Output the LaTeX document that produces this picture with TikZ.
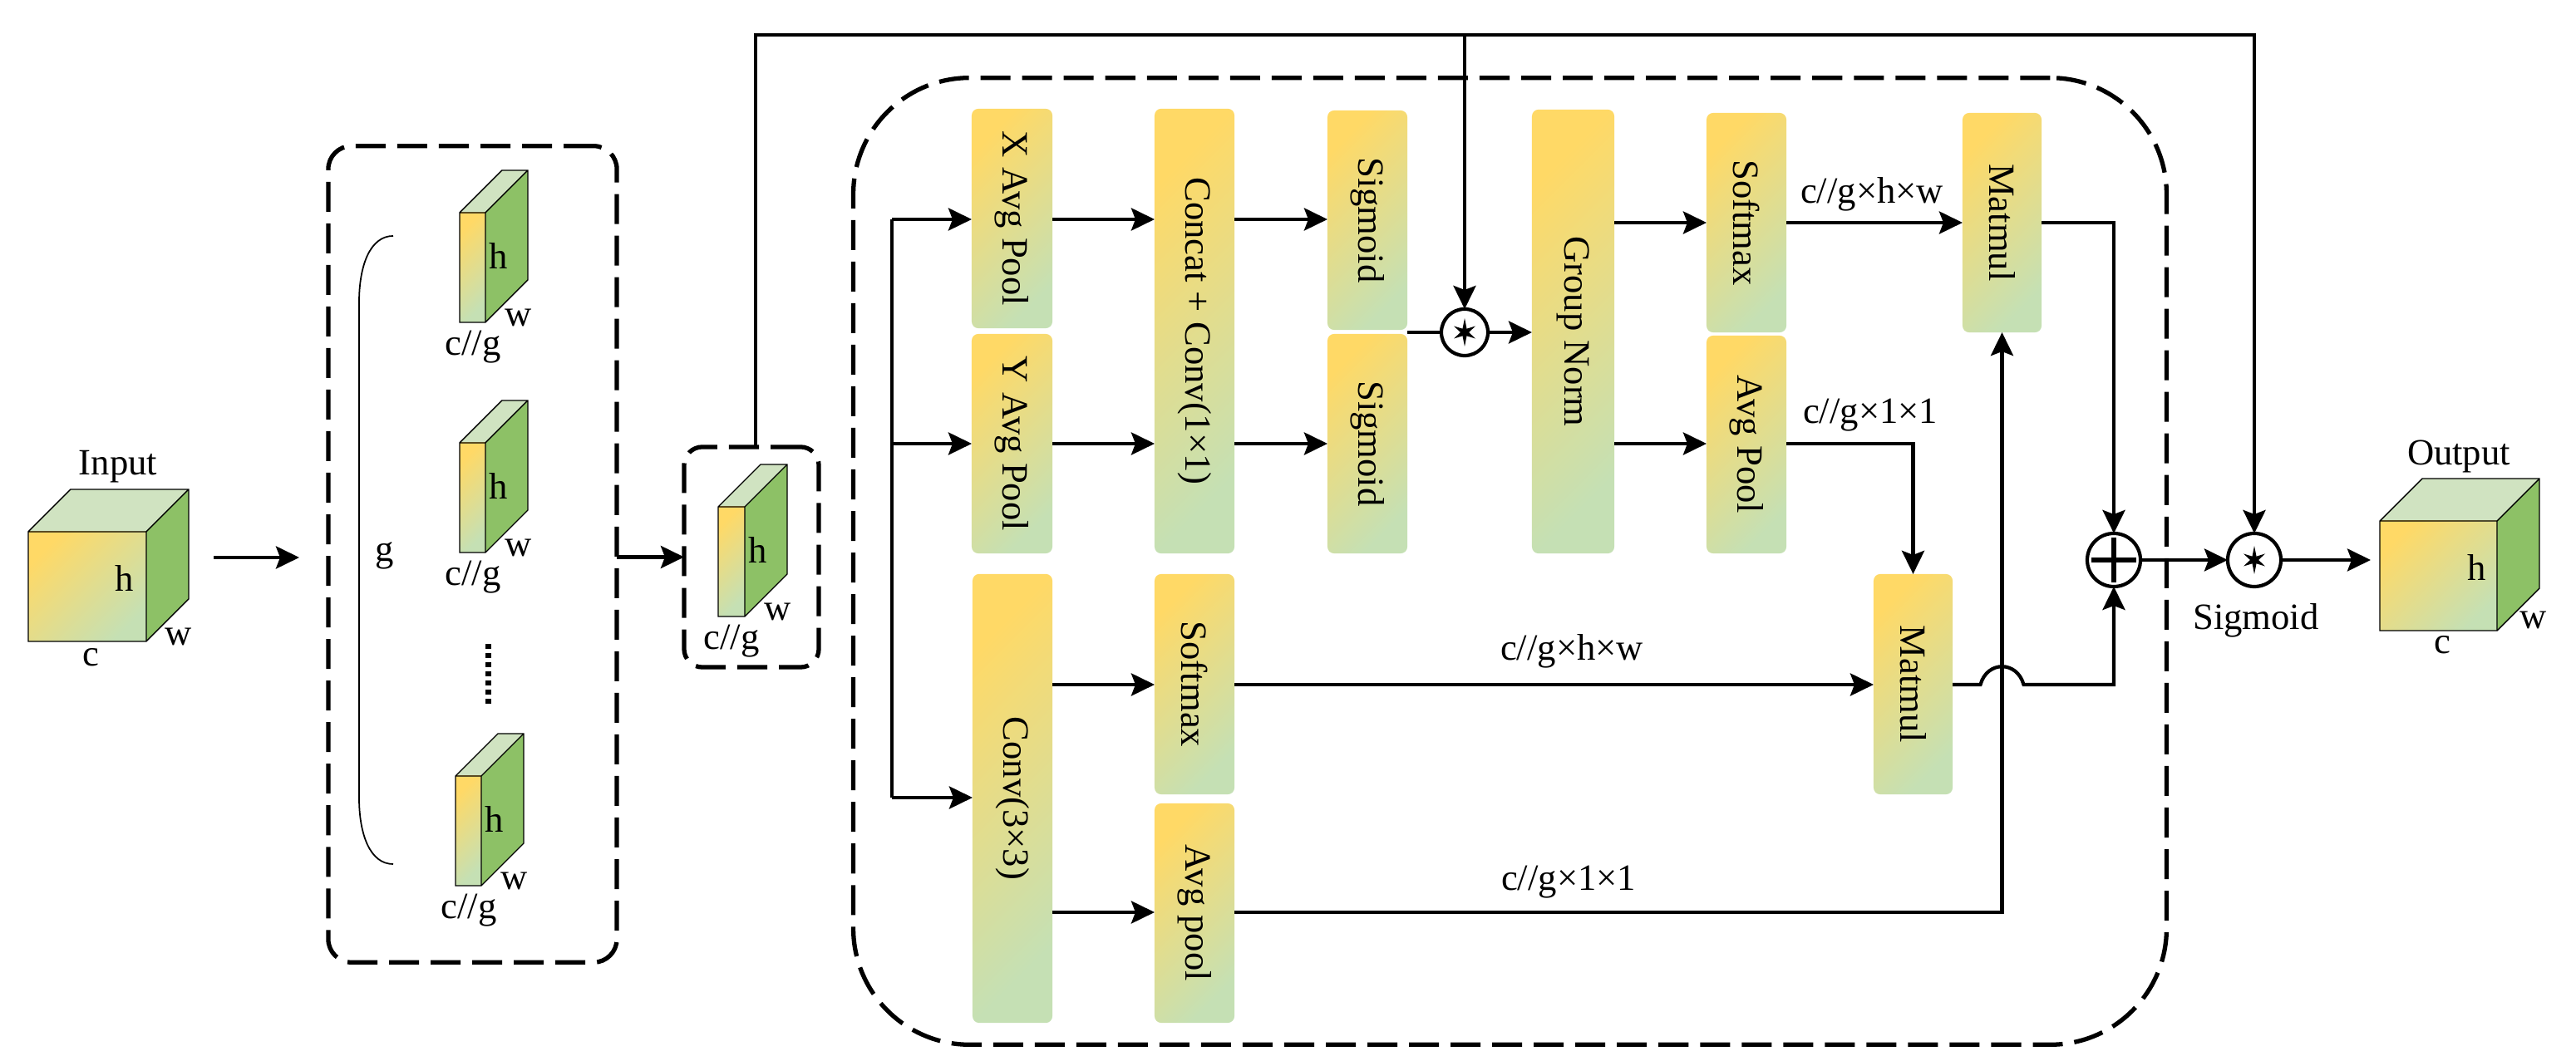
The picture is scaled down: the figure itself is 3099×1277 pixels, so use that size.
\documentclass[tikz,border=0pt]{standalone}
\usepackage{fontspec}
\usepackage{graphicx}
\setmainfont{Liberation Serif}
\usetikzlibrary{arrows.meta,calc}
\definecolor{ylw}{RGB}{255,217,102}
\definecolor{grn}{RGB}{197,224,180}
\definecolor{topc}{RGB}{208,227,193}
\definecolor{sidec}{RGB}{141,193,102}
\newcommand\mycube[5]{%
  \fill[topc] (#1,#2) -- ({#1+#5},{#2-#5}) -- ({#3+#5},{#2-#5}) -- (#3,#2) -- cycle;
  \fill[sidec] (#3,#2) -- ({#3+#5},{#2-#5}) -- ({#3+#5},{#4-#5}) -- (#3,#4) -- cycle;
  \shade[top color=ylw, bottom color=grn, shading angle=45] (#1,#2) rectangle (#3,#4);
  \draw[cubeedge] (#1,#2) -- ({#1+#5},{#2-#5}) -- ({#3+#5},{#2-#5}) -- ({#3+#5},{#4-#5}) -- (#3,#4) -- (#1,#4) -- cycle
     (#1,#2) -- (#3,#2) -- ({#3+#5},{#2-#5}) (#3,#2) -- (#3,#4);
}
\newcommand\starsym[1]{%
  \fill[shift={(#1)}] (90:17) -- (120:5) -- (150:15) -- (180:5) -- (210:15) -- (240:5) -- (270:17) -- (300:5) -- (330:15) -- (0:5) -- (30:15) -- (60:5) -- cycle;
}
\begin{document}
\begin{tikzpicture}[x=0.01cm, y=-0.01cm,
  every node/.style={font=\fontsize{12.7}{15}\selectfont},
  cubeedge/.style={line width=0.4pt, black},
  blk/.style={rounded corners=0.08cm, top color=ylw, bottom color=grn, shading angle=45, inner sep=0pt, outer sep=0pt},
  conn/.style={line width=1.2pt},
  arr/.style={line width=1.2pt, -{Stealth[length=0.28cm, width=0.27cm, inset=0.05cm]}},
  dbox/.style={draw, line width=1.5pt, dash pattern=on 0.36cm off 0.14cm, inner sep=0pt, outer sep=0pt},
  opc/.style={circle, draw, line width=1.2pt, inner sep=0pt, outer sep=0pt},
  lab/.style={anchor=base, inner sep=0pt}
]
\useasboundingbox (0,0) rectangle (3099,1277);

% ---------- input cube ----------
\mycube{34}{640}{176}{772}{51}
\node[lab] (inlab) at (142,572) {Input};
\node[lab] (inh) at (150,712) {h};
\node[lab] (inw) at (215,777) {w};
\node[lab] (inc) at (109,802) {c};
\coordinate (ia) at (257,671);
\coordinate (ib) at (360,671);
\draw[arr] (ia) -- (ib);

% ---------- group box ----------
\node[dbox, rounded corners=0.28cm, minimum width=3.47cm, minimum height=9.82cm] (gbox) at (568.5,667) {};
\draw[line width=0.5pt] (473,284) .. controls (445,284) and (432,320) .. (432,364) -- (432,960) .. controls (432,1004) and (445,1040) .. (473,1040);
\node[lab] (glab) at (463,676) {g};
\mycube{553}{256}{584}{388}{51}
\node[lab] (h1) at (600,324) {h};
\node[lab] (w1) at (624,393) {w};
\node[lab] (cg1) at (569,428) {c//g};
\mycube{553}{533}{584}{665}{51}
\node[lab] (h2) at (600,601) {h};
\node[lab] (w2) at (624,670) {w};
\node[lab] (cg2) at (569,705) {c//g};
\draw[line width=0.07cm, dash pattern=on 0.06cm off 0.05cm] (587,775) -- (587,852);
\mycube{548}{934}{579}{1066}{51}
\node[lab] (h3) at (595,1002) {h};
\node[lab] (w3) at (619,1071) {w};
\node[lab] (cg3) at (564,1106) {c//g};

% ---------- small box ----------
\node[dbox, rounded corners=0.22cm, minimum width=1.62cm, minimum height=2.65cm] (sbox) at (904,670.5) {};
\mycube{864}{610}{896}{742}{51}
\node[lab] (h4) at (912,678) {h};
\node[lab] (w4) at (936,747) {w};
\node[lab] (cg4) at (880,782) {c//g};
\draw[arr] (gbox.east |- sbox.west) -- (sbox.west);

% ---------- big box ----------
\node[dbox, rounded corners=1.4cm, minimum width=15.79cm, minimum height=11.63cm] (bbox) at (1816.5,675.5) {};

% ---------- blocks ----------
\node[blk, minimum width=0.97cm, minimum height=2.64cm] (xpool) at (1217.5,263) {\rotatebox{-90}{X Avg Pool}};
\node[blk, minimum width=0.97cm, minimum height=2.64cm] (ypool) at (1217.5,534) {\rotatebox{-90}{Y Avg Pool}};
\node[blk, minimum width=0.96cm, minimum height=5.35cm] (concat) at (1437,398.5) {\rotatebox{-90}{Concat + Conv(1×1)}};
\node[blk, minimum width=0.96cm, minimum height=2.64cm] (sig1) at (1645,265) {\rotatebox{-90}{Sigmoid}};
\node[blk, minimum width=0.96cm, minimum height=2.64cm] (sig2) at (1645,534) {\rotatebox{-90}{Sigmoid}};
\node[blk, minimum width=0.99cm, minimum height=5.34cm] (gn) at (1892.5,399) {\rotatebox{-90}{Group Norm}};
\node[blk, minimum width=0.96cm, minimum height=2.64cm] (smax1) at (2101,268) {\rotatebox{-90}{Softmax}};
\node[blk, minimum width=0.96cm, minimum height=2.62cm] (apool1) at (2101,535) {\rotatebox{-90}{Avg Pool}};
\node[blk, minimum width=0.95cm, minimum height=2.64cm] (mm1) at (2408.5,268) {\rotatebox{-90}{Matmul}};
\node[blk, minimum width=0.96cm, minimum height=5.40cm] (conv3) at (1218,961) {\rotatebox{-90}{Conv(3×3)}};
\node[blk, minimum width=0.96cm, minimum height=2.65cm] (smax2) at (1437,823.5) {\rotatebox{-90}{Softmax}};
\node[blk, minimum width=0.96cm, minimum height=2.64cm] (apool2) at (1437,1099) {\rotatebox{-90}{Avg pool}};
\node[blk, minimum width=0.95cm, minimum height=2.65cm] (mm2) at (2301.5,823.5) {\rotatebox{-90}{Matmul}};

% ---------- operators ----------
\node[opc, minimum size=0.56cm] (st1) at (1762,400) {};
\starsym{st1}
\node[opc, minimum size=0.64cm] (plus) at (2543,674) {};
\draw[line width=1.6pt] ($(plus)+(-27,0)$) -- ($(plus)+(27,0)$) ($(plus)+(0,-27)$) -- ($(plus)+(0,27)$);
\node[opc, minimum size=0.64cm] (st2) at (2712,674) {};
\starsym{st2}
\node[lab] (siglab) at (2714,758) {Sigmoid};

% ---------- output cube ----------
\mycube{2863}{627}{3004}{759}{51}
\node[lab] (outlab) at (2958,560) {Output};
\node[lab] (outh) at (2980,699) {h};
\node[lab] (outw) at (3048,757) {w};
\node[lab] (outc) at (2938,787) {c};
\coordinate (oa) at (2852,674);

% ---------- coordinates ----------
\coordinate (ytop) at (0,42);
\coordinate (bus1) at (1073,264);
\coordinate (bus2) at (1073,534);
\coordinate (bus3) at (1073,960);
\coordinate (r1) at (0,264);
\coordinate (r2) at (0,534);
\coordinate (r3) at (0,268);
\coordinate (r4) at (0,824);
\coordinate (r5) at (0,1098);

% ---------- connectors ----------
\draw[arr] ([xshift=0.05cm]sbox.north) -- ([xshift=0.05cm]sbox.north |- ytop) -- (st2 |- ytop) -- (st2.north);
\draw[arr] (st1 |- ytop) -- (st1.north);
\draw[conn] (bus1) -- (bus3);
\draw[arr] (bus1) -- (xpool.west |- bus1);
\draw[arr] (bus2) -- (ypool.west |- bus2);
\draw[arr] (bus3) -- (conv3.west |- bus3);
\draw[arr] (xpool.east |- r1) -- (concat.west |- r1);
\draw[arr] (ypool.east |- r2) -- (concat.west |- r2);
\draw[arr] (concat.east |- r1) -- (sig1.west |- r1);
\draw[arr] (concat.east |- r2) -- (sig2.west |- r2);
\draw[conn] (sig1.east |- st1) -- (st1.west);
\draw[arr] (st1.east) -- (gn.west |- st1);
\draw[arr] (gn.east |- r3) -- (smax1.west |- r3);
\draw[arr] (gn.east |- r2) -- (apool1.west |- r2);
\draw[arr] (smax1.east |- r3) -- (mm1.west |- r3);
\draw[arr] (apool1.east |- r2) -- (mm2.north |- r2) -- (mm2.north);
\draw[arr] (mm1.east) -- (mm1.east -| plus) -- (plus.north);
\draw[arr] (conv3.east |- r4) -- (smax2.west |- r4);
\draw[arr] (conv3.east |- r5) -- (apool2.west |- r5);
\draw[arr] (smax2.east |- r4) -- (mm2.west |- r4);
\draw[arr] (apool2.east |- r5) -- (mm1.south |- r5) -- (mm1.south);
\draw[arr] (mm2.east |- r4) -- ($(mm1.south |- r4)+(-26,0)$) .. controls +(8,-29) and +(-8,-29) .. ($(mm1.south |- r4)+(26,0)$) -- (plus |- r4) -- (plus.south);
\draw[arr] (plus.east) -- (st2.west);
\draw[arr] (st2.east) -- (oa);

% ---------- labels ----------
\node[lab] (l1) at (2252,245) {c//g×h×w};
\node[lab] (l2) at (2250,510) {c//g×1×1};
\node[lab] (l3) at (1891,795) {c//g×h×w};
\node[lab] (l4) at (1887,1072) {c//g×1×1};
\end{tikzpicture}
\end{document}
